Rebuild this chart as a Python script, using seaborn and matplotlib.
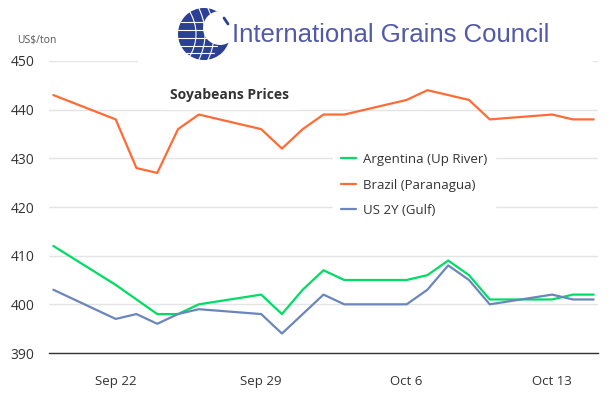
import pandas as pd
import seaborn as sns
import matplotlib.pyplot as plt
import numpy as np
from matplotlib.patches import Circle, Rectangle

# ---------------------------------------------------------------------------
# DATA
# ---------------------------------------------------------------------------
dates = ["2025-09-19",
         "2025-09-22", "2025-09-23", "2025-09-24", "2025-09-25", "2025-09-26",
         "2025-09-29", "2025-09-30", "2025-10-01", "2025-10-02", "2025-10-03",
         "2025-10-06", "2025-10-07", "2025-10-08", "2025-10-09", "2025-10-10",
         "2025-10-13", "2025-10-14", "2025-10-15"]
argentina = [412, 404, 401, 398, 398, 400, 402, 398, 403, 407, 405,
             405, 406, 409, 406, 401, 401, 402, 402]
brazil = [443, 438, 428, 427, 436, 439, 436, 432, 436, 439, 439,
          442, 444, 443, 442, 438, 439, 438, 438]
us_gulf = [403, 397, 398, 396, 398, 399, 398, 394, 398, 402, 400,
           400, 403, 408, 405, 400, 402, 401, 401]
series_names = ["Argentina (Up River)", "Brazil (Paranagua)", "US 2Y (Gulf)"]
series_colors = ["#00dc64", "#ff6b35", "#6b86bb"]
tick_dates = ["2025-09-22", "2025-09-29", "2025-10-06", "2025-10-13"]
tick_labels = ["Sep 22", "Sep 29", "Oct 6", "Oct 13"]
y_ticks = [390, 400, 410, 420, 430, 440, 450]

df = pd.DataFrame({"date": pd.to_datetime(dates)})
for name, vals in zip(series_names, [argentina, brazil, us_gulf]):
    df[name] = vals
long_df = df.melt(id_vars="date", var_name="series", value_name="price")

# ---------------------------------------------------------------------------
# PLOT
# ---------------------------------------------------------------------------
sns.set_theme(style="white")
plt.rcParams['font.family'] = ['Open Sans', 'DejaVu Sans']

fig = plt.figure(figsize=(6.15, 3.93), dpi=100)
ax = fig.add_axes([49 / 615, 40 / 393, 549 / 615, 292 / 393])

sns.lineplot(data=long_df, x="date", y="price", hue="series",
             hue_order=series_names, palette=series_colors,
             linewidth=1.6, ax=ax)

ax.set_ylim(390, 450)
ax.set_yticks(y_ticks)
ax.set_xlim(pd.Timestamp(dates[0]) - pd.Timedelta(hours=5),
            pd.Timestamp(dates[-1]) + pd.Timedelta(hours=5))
ax.set_xticks(pd.to_datetime(tick_dates))
ax.set_xticklabels(tick_labels)
ax.set_xlabel("")
ax.set_ylabel("")
ax.grid(axis="y", color="#e4e4e4", linewidth=1)
ax.grid(axis="x", visible=False)
for side in ["top", "right", "left"]:
    ax.spines[side].set_visible(False)
ax.spines["bottom"].set_color("#333333")
ax.spines["bottom"].set_linewidth(1)
ax.tick_params(axis="x", direction="out", length=7, width=1, color="#333333",
               labelsize=9.5, labelcolor="#333333", pad=9)
ax.tick_params(axis="y", length=0, labelsize=10, labelcolor="#333333", pad=10.5)

leg = ax.legend(loc="upper left", bbox_to_anchor=(0.517, 0.712), frameon=True,
                fontsize=9.5, labelspacing=0.95, handlelength=1.15,
                handletextpad=0.5, borderpad=0.6, borderaxespad=0)
leg.get_frame().set_facecolor("white")
leg.get_frame().set_edgecolor("white")
leg.get_frame().set_alpha(1)
for t in leg.get_texts():
    t.set_color("#333333")

fig.text(17 / 615, 1 - 40 / 393, "US$/ton", fontsize=7.5, color="#555555",
         va="center")

# Title with white backing that hides the gridline
fig.text(230 / 615, 1 - 95 / 393, "Soyabeans Prices", fontsize=10,
         fontweight="bold", color="#333333", ha="center", va="center",
         bbox=dict(facecolor="white", edgecolor="none", pad=6))

# Logo area
logo_ax = fig.add_axes([138 / 615, 1 - 63 / 393, 455 / 615, 63 / 393])
logo_ax.set_xlim(0, 455)
logo_ax.set_ylim(63, 0)
logo_ax.axis("off")
logo_ax.add_patch(Rectangle((0, 0), 455, 63, facecolor="white", edgecolor="none"))
logo_ax.set_aspect("equal")
cx, cy, r = 66, 34, 26
logo_ax.add_patch(Circle((cx, cy), r, facecolor="#2b3f94", edgecolor="none"))
for dy in [-12, -4, 4, 12, 19]:
    half = np.sqrt(max(r ** 2 - dy ** 2, 0))
    logo_ax.plot([cx - half, cx + half * 0.55], [cy + dy, cy + dy],
                 color="white", lw=0.8)
for k in [-14, -5, 4]:
    tt = np.linspace(-1, 1, 40)
    logo_ax.plot(cx + k + 6 * (1 - tt ** 2), cy + tt * np.sqrt(r ** 2 - k ** 2),
                 color="white", lw=0.8)
logo_ax.add_patch(Circle((cx + 16, cy - 6), 17, facecolor="white",
                         edgecolor="none"))
logo_ax.plot([cx + 20, cx + 24], [cy - 16, cy - 10], color="#2b3f94", lw=2)
logo_ax.text(94, 35, "International Grains Council", fontsize=18.5,
             color="#5159a8", va="center", ha="left", family="Liberation Sans")

fig.savefig("out.png", dpi=100)
